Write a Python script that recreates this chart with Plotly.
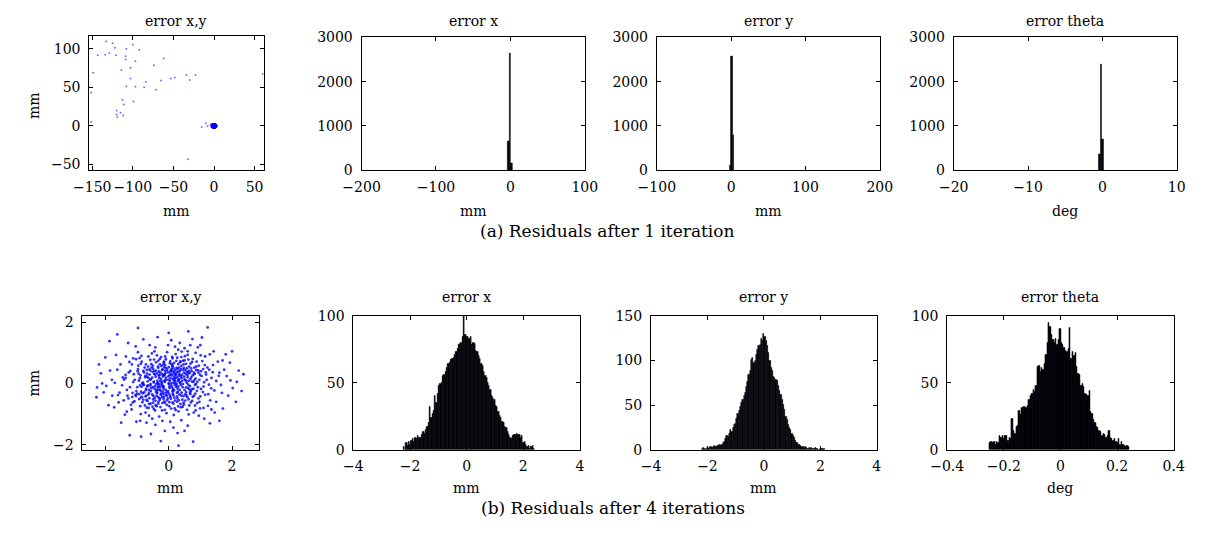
import plotly.graph_objects as go

# ---------------- DATA ----------------
# (a) after 1 iteration: outliers of the x,y residuals (mm)
outlier_pts = [
    (-132.8, 109.4), (-124.8, 107.2), (-122.0, 101.3), (-143.2, 91.5), (-134.0, 92.3),
    (-128.8, 94.5), (-120.8, 91.5), (-108.0, 100.0), (-100.0, 105.0), (-92.0, 98.7),
    (-108.8, 90.2), (-108.8, 86.0), (-96.8, 83.8), (-62.0, 87.2), (-74.0, 78.7),
    (-148.8, 68.9), (-114.0, 72.3), (-102.8, 75.3), (-102.8, 61.3), (-84.0, 57.0),
    (-108.0, 51.0), (-96.8, 50.6), (-86.0, 50.2), (-71.2, 46.8), (-65.2, 58.7),
    (-53.2, 61.3), (-48.4, 62.6), (-34.0, 66.0), (-30.0, 59.6), (-22.8, 66.0),
    (60.0, 67.2), (-151.2, 43.4), (-112.8, 34.0), (-111.2, 27.7), (-99.2, 31.5),
    (-120.0, 20.0), (-115.2, 17.0), (-120.0, 14.9), (-112.0, 13.6), (-119.2, 11.5),
    (-151.2, 5.1), (-15.2, -1.3), (-10.0, 3.4), (-8.0, 0.0), (-4.0, 2.1),
    (-32.0, -43.4),
]

# residual cloud of x,y errors (mm)
cloud_pts = [
    (-0.12, 0.05), (0.23, -0.11), (0.41, 0.18), (-0.35, -0.22), (0.07, 0.31), (-0.58, 0.12), (0.62, -0.04),
    (-0.21, 0.44), (0.15, -0.39), (0.48, 0.35), (-0.44, -0.47), (0.01, -0.02), (-0.67, -0.09), (0.33, 0.52),
    (-0.05, -0.55), (0.72, 0.21), (-0.29, 0.27), (0.19, 0.12), (-0.51, 0.38), (0.55, -0.28), (-0.16, -0.18),
    (0.09, 0.47), (-0.38, -0.02), (0.28, -0.49), (-0.74, 0.25), (0.44, -0.12), (-0.09, 0.19), (0.64, 0.41),
    (-0.25, -0.37), (0.12, -0.24), (-0.47, 0.06), (0.37, 0.03), (-0.02, 0.36), (0.78, -0.17), (-0.62, -0.31),
    (0.21, 0.27), (-0.33, 0.51), (0.52, 0.11), (-0.18, -0.08), (0.05, -0.44), (-0.55, -0.15), (0.31, 0.39),
    (-0.07, 0.12), (0.68, -0.35), (-0.41, 0.22), (0.16, 0.02), (-0.28, -0.53), (0.47, -0.41), (-0.69, 0.44),
    (0.26, -0.31), (-0.13, 0.29), (0.59, 0.27), (-0.36, 0.09), (0.03, -0.15), (-0.52, -0.36), (0.39, 0.46),
    (-0.22, 0.01), (0.11, 0.55), (-0.79, -0.05), (0.73, 0.06), (-0.04, -0.29), (0.35, -0.21), (-0.46, 0.31),
    (0.22, 0.18), (-0.15, -0.44), (0.57, 0.02), (-0.31, 0.39), (0.08, -0.07), (-0.64, 0.18), (0.43, -0.53),
    (-0.11, 0.41), (0.29, 0.09), (-0.39, -0.29), (0.66, 0.33), (-0.24, 0.15), (0.13, -0.34), (-0.57, -0.02),
    (0.49, 0.22), (-0.01, 0.23), (0.81, 0.11), (-0.72, -0.22), (0.18, 0.38), (-0.27, -0.12), (0.38, -0.05),
    (-0.49, 0.48), (0.04, 0.08), (-0.19, -0.27), (0.61, -0.15), (-0.34, 0.02), (0.25, 0.51), (-0.08, -0.38),
    (0.53, 0.44), (-0.60, 0.29), (0.14, -0.18), (-0.43, -0.08), (0.32, 0.26), (-0.14, 0.53), (0.70, -0.26),
    (-0.26, 0.35), (0.06, 0.17),
    (-0.95, 0.32), (1.02, -0.18), (0.87, 0.55), (-0.83, -0.61), (0.12, 0.82), (-0.21, -0.88), (1.18, 0.29),
    (-1.12, 0.05), (0.65, -0.72), (-0.58, 0.77), (0.94, -0.49), (-1.05, -0.38), (0.31, -0.91), (-0.37, 0.92),
    (1.27, -0.04), (-1.21, 0.41), (0.76, 0.80), (-0.88, 0.64), (0.45, 0.74), (-0.69, -0.79), (1.09, 0.47),
    (-0.99, -0.12), (0.58, -0.86), (-0.15, 0.71), (0.02, -0.74), (1.35, 0.18), (-1.32, -0.21), (0.84, -0.33),
    (-0.76, 0.52), (0.22, 0.96), (-0.47, -0.83), (1.15, -0.37), (-1.16, 0.62), (0.69, 0.65), (-0.62, -0.67),
    (0.97, 0.12), (-0.91, 0.17), (0.39, -0.78), (-0.28, 0.80), (1.22, 0.52), (-1.27, -0.49), (0.51, 0.89),
    (-0.84, -0.44), (0.90, -0.64), (-0.05, 1.02), (0.16, -1.03), (-1.41, 0.13), (1.44, -0.23), (-0.53, 0.98),
    (0.63, -1.01), (-1.03, 0.79), (1.06, 0.73), (-0.73, -0.95), (0.82, 0.31), (-0.97, 0.47), (0.36, 0.69),
    (-0.41, -0.71), (1.31, -0.55), (-1.19, -0.70), (0.04, 0.66), (-0.07, -0.97), (0.99, -0.81), (-0.81, 0.03),
    (0.74, -0.57), (-0.55, 0.63), (1.12, 0.04), (-1.08, -0.58), (0.27, 0.84), (-0.33, -0.66), (0.86, -0.02),
    (-0.92, 0.83), (1.39, 0.37), (-1.36, 0.28), (0.48, -0.69), (-0.64, 0.88), (0.60, 0.93), (-0.87, -0.27),
    (1.01, 0.92), (-1.24, 0.70), (0.19, -0.81), (-0.11, 0.88), (0.93, 0.43), (-1.14, -0.31), (1.24, -0.73),
    (-0.45, 1.05), (0.41, 1.04), (-0.70, -0.54), (0.79, -0.95), (-1.47, -0.06), (1.50, 0.08),
    (-1.62, 0.45), (1.68, -0.31), (1.55, 0.71), (-1.58, -0.62), (0.35, 1.32), (-0.42, -1.35), (1.83, 0.24),
    (-1.79, 0.12), (0.92, 1.18), (-1.04, 1.21), (1.12, -1.15), (-0.90, -1.22), (2.02, -0.15), (-2.05, -0.29),
    (0.08, 1.41), (0.15, -1.44), (1.71, -0.82), (-1.66, 0.93), (-0.35, 1.51), (0.60, -1.38), (2.21, 0.42),
    (-2.14, 0.33), (1.42, 1.05), (-1.38, -1.02), (0.75, 1.45), (-0.80, 1.44), (1.93, 0.68), (-1.90, -0.71),
    (0.28, -1.62), (-0.12, -1.55), (1.30, -1.30), (-1.28, 1.32), (2.36, 0.30), (-2.26, -0.13), (-2.20, 0.62),
    (-1.87, 1.38), (-0.97, 1.81), (0.62, 1.70), (1.23, 1.83), (2.00, 1.05), (1.80, 0.95), (-1.23, -1.69),
    (-0.87, -1.74), (-0.56, -1.65), (0.31, -2.03), (0.77, -1.90), (-2.28, -0.45), (1.60, -1.22), (-1.50, -1.28),
    (2.12, -0.60), (-2.00, 0.85), (0.00, 1.65), (-0.25, -1.88), (1.05, 1.50), (-1.62, 1.60), (2.30, -0.25),
    (1.45, -0.95), (-1.45, 0.20), (0.50, -1.55), (-0.60, 1.25),
    (0.02, -0.61), (-0.17, 0.62), (0.47, -0.63), (-0.50, 0.58), (0.85, 0.16), (-0.86, -0.11), (0.24, 0.00),
    (-0.30, -0.03), (0.11, 0.26), (-0.09, -0.21), (0.58, 0.50), (-0.61, -0.48), (0.34, -0.36), (-0.37, 0.33),
    (0.76, -0.44), (-0.78, 0.36), (0.17, 0.67), (-0.20, -0.64), (0.95, 0.58), (-0.93, -0.51), (0.42, 0.08),
    (-0.45, -0.17), (0.07, 0.43), (-0.03, -0.49), (0.67, -0.09), (-0.66, 0.07), (0.30, 0.63), (-0.32, -0.59),
    (0.89, -0.24), (-0.89, 0.26), (0.20, -0.56), (-0.23, 0.57), (0.54, 0.31), (-0.56, -0.25), (0.10, -0.12),
    (-0.13, 0.10), (0.71, 0.49), (-0.71, -0.40), (0.37, -0.67), (-0.40, 0.69), (1.04, 0.24), (-1.02, -0.25),
    (0.26, 0.36), (-0.24, -0.33), (0.50, -0.21), (-0.52, 0.19), (0.00, 0.53), (0.01, -0.33), (0.80, 0.35),
    (-0.82, -0.32), (0.14, 0.15), (-0.16, -0.10), (0.63, -0.52), (-0.65, 0.55), (0.40, 0.57), (-0.42, -0.56),
    (1.10, -0.10), (-1.07, 0.12), (0.28, -0.17), (-0.30, 0.18), (0.55, 0.64), (-0.57, -0.66), (0.05, 0.72),
    (-0.06, -0.70), (0.92, -0.12), (-0.94, 0.09), (0.33, 0.14), (-0.35, -0.14), (0.69, 0.15), (-0.71, -0.17),
    (0.18, -0.47), (-0.19, 0.46), (0.46, 0.45), (-0.48, -0.41), (1.17, 0.36), (-1.15, -0.44), (0.30, -0.75),
    (-0.33, 0.74), (0.83, -0.72), (-0.85, 0.71), (0.09, 0.00), (-0.10, 0.34), (0.56, -0.40), (-0.58, 0.42),
    (0.21, 0.44), (-0.21, -0.45), (0.74, 0.70), (-0.75, -0.72), (0.38, 0.23), (-0.40, -0.23), (1.00, -0.42),
    (-0.98, 0.40), (0.12, -0.62), (-0.11, 0.60), (0.64, 0.09), (-0.66, -0.06), (0.25, -0.05), (-0.27, 0.08),
    (0.87, 0.44), (-0.88, -0.46),
    (0.45, -0.02), (-0.47, 0.03), (0.16, 0.33), (-0.17, -0.35), (0.83, -0.05), (-0.84, 0.00), (0.29, -0.27),
    (-0.31, 0.26), (0.60, 0.20), (-0.62, -0.21), (0.03, 0.27), (-0.02, -0.25), (0.99, 0.28), (-1.00, -0.33),
    (0.36, 0.41), (-0.38, -0.40), (0.52, -0.56), (-0.54, 0.52), (0.13, 0.58), (-0.14, -0.59), (0.70, -0.62),
    (-0.72, 0.62), (0.41, -0.30), (-0.43, 0.29), (0.08, -0.82), (-0.09, 0.79), (1.20, 0.12), (-1.22, -0.12),
    (0.24, 0.74), (-0.26, -0.77), (0.88, 0.71), (-0.90, -0.74), (0.56, 0.08), (-0.58, -0.07), (0.19, -0.04),
    (-0.21, 0.06), (0.76, 0.27), (-0.77, -0.29), (0.32, -0.55), (-0.34, 0.55), (1.08, -0.28), (-1.10, 0.30),
    (0.47, 0.62), (-0.49, -0.63), (0.00, 0.12), (0.02, -0.10), (0.65, 0.55), (-0.67, -0.57), (0.27, 0.20),
    (-0.28, -0.20), (1.28, 0.45), (-1.30, -0.40), (0.40, 0.86), (-0.43, -0.88), (0.97, -0.60), (-0.96, 0.58),
    (0.15, -0.66), (-0.15, 0.68), (0.73, -0.19), (-0.74, 0.20), (0.34, 0.31), (-0.36, -0.31), (0.59, -0.45),
    (-0.61, 0.46), (1.34, -0.16), (-1.36, 0.18), (0.22, -0.87), (-0.24, 0.86), (0.81, 0.52), (-0.80, -0.53),
    (0.05, 0.38), (-0.06, -0.40), (0.50, 0.13), (-0.50, -0.12), (1.14, 0.60), (-1.13, -0.62), (0.62, 0.78),
    (-0.63, -0.80), (0.17, -0.22), (-0.18, 0.23), (0.90, 0.05), (-0.90, -0.06), (0.44, -0.76), (-0.46, 0.78),
    (0.28, 0.48), (-0.29, -0.49), (1.02, 0.40), (-1.03, -0.41), (0.11, 0.87), (-0.12, -0.86), (0.67, -0.30),
    (-0.68, 0.32), (0.37, 0.72), (-0.38, -0.74), (1.25, -0.35), (-1.26, 0.36), (0.55, -0.13), (-0.57, 0.14),
    (0.20, 0.06), (-0.22, -0.05), (1.58, 0.25), (-1.55, -0.30), (0.85, -0.88), (-0.86, 0.90), (1.40, 0.60),
    (-1.42, -0.55), (0.50, 1.15), (-0.52, -1.15), (1.65, -0.05), (-1.70, 0.02), (0.20, 1.20), (-0.20, -1.22),
    (1.15, 0.88), (-1.17, -0.85), (0.95, -1.05), (-0.97, 1.02), (1.75, 0.45), (-1.78, -0.40), (0.68, 1.25),
    (-0.70, -1.28), (1.50, -0.60), (-1.52, 0.62), (0.05, -1.25), (-0.02, 1.25), (1.88, -0.40), (-1.85, 0.42),
    (1.30, 0.95), (-1.32, -0.92), (0.40, -1.20), (-0.42, 1.18), (1.95, 0.10), (-1.97, -0.08), (0.85, 1.00),
    (-0.88, -1.00), (1.60, 0.35), (-1.60, -0.38), (0.30, 1.10), (-0.30, -1.08), (1.10, -0.80), (-1.12, 0.82),
    (2.15, 0.05), (-2.10, 0.00), (1.35, -0.85), (-1.35, 0.88), (0.60, 1.05), (-0.62, -1.05), (1.70, 0.75),
    (-1.72, -0.78), (1.00, 1.25), (-1.02, -1.25), (0.18, 0.20), (-0.20, 0.30), (0.30, -0.10), (-0.10, -0.30),
    (0.12, 0.40), (0.42, 0.28), (-0.33, -0.45), (0.26, -0.42), (-0.45, 0.40), (0.53, -0.35), (0.07, -0.50),
    (-0.08, 0.50), (0.62, 0.35), (-0.64, -0.36), (0.35, 0.02), (-0.36, 0.00), (0.13, -0.27), (-0.14, 0.27),
    (0.48, 0.51), (-0.49, -0.52), (0.00, 0.00), (0.22, 0.30), (-0.25, -0.24), (0.40, -0.40), (-0.40, 0.42),
    (0.66, -0.20), (-0.68, 0.22), (0.10, 0.62), (-0.12, -0.63), (0.57, 0.38), (0.31, 0.10), (-0.32, -0.09),
    (0.80, -0.40), (-0.80, 0.41), (0.15, 0.50), (-0.16, -0.51), (0.72, 0.40), (-0.73, -0.42), (0.04, -0.40),
    (-0.05, 0.44), (0.94, 0.35), (-0.93, -0.35), (0.27, -0.60), (-0.28, 0.62), (0.50, 0.75), (-0.51, -0.76),
    (0.16, 0.10), (-0.17, -0.12), (0.78, 0.05), (-0.79, -0.04),
]

# (a) histograms after 1 iteration: bin centers and counts
top_ex_centers = [-2.6, -0.45, 1.7]
top_ex_counts = [650, 2650, 150]
top_ex_width = 2.15
top_ey_centers = [-1.3, 0.9, 3.1]
top_ey_counts = [120, 2570, 790]
top_ey_width = 2.2
top_et_centers = [-0.37, -0.15, 0.07]
top_et_counts = [360, 2390, 700]
top_et_width = 0.22

# (b) histograms after 4 iterations (100 bins each)
ex_start, ex_width = -2.25, 0.0465
ex_counts = [2, 0, 5, 3, 6, 4, 7, 8, 6, 9, 8, 10, 9, 9, 11, 13, 12, 15, 17, 20,
             32, 24, 27, 29, 40, 35, 42, 48, 49, 50, 55, 56, 58, 61, 64, 65, 67, 68, 69, 71,
             73, 75, 78, 79, 80, 84, 100, 86, 84, 84, 83, 84, 78, 80, 79, 74, 73, 70, 68, 64,
             63, 58, 55, 54, 50, 48, 45, 40, 39, 37, 33, 32, 28, 25, 24, 21, 20, 17, 16, 13,
             11, 9, 8, 10, 11, 11, 12, 11, 11, 9, 10, 5, 6, 4, 2, 3, 1, 2, 3, 1]
ey_start, ey_width = -2.2, 0.0435
ey_counts = [1, 2, 1, 0, 2, 1, 2, 3, 2, 3, 4, 3, 4, 4, 5, 4, 6, 8, 9, 12,
             16, 14, 18, 22, 20, 25, 28, 29, 35, 40, 44, 48, 52, 56, 60, 64, 70, 76, 84, 88,
             101, 103, 97, 100, 106, 112, 116, 118, 124, 122, 130, 127, 122, 116, 109, 100, 92, 88, 82, 80,
             78, 77, 72, 66, 62, 56, 50, 45, 37, 34, 28, 25, 22, 18, 15, 13, 10, 8, 6, 5,
             4, 3, 3, 2, 3, 2, 1, 2, 1, 2, 1, 1, 2, 1, 1, 0, 1, 1, 1, 1]
et_start, et_width = -0.2515, 0.00495
et_counts = [5, 6, 5, 6, 4, 6, 5, 10, 9, 10, 8, 10, 10, 7, 9, 8, 23, 14, 12, 17,
             18, 29, 26, 31, 32, 32, 31, 33, 37, 40, 42, 45, 43, 48, 62, 63, 58, 61, 60, 64,
             71, 80, 95, 92, 86, 82, 80, 83, 78, 82, 90, 80, 78, 76, 74, 73, 75, 91, 68, 73,
             70, 72, 62, 57, 56, 48, 49, 47, 42, 41, 40, 44, 28, 27, 22, 20, 17, 16, 14, 13,
             10, 12, 11, 9, 10, 14, 9, 8, 7, 8, 6, 5, 8, 4, 6, 4, 3, 2, 3, 2]

titles = ["error x,y", "error x", "error y", "error theta"]
xlabels = ["mm", "mm", "mm", "deg"]
captions = ["(a) Residuals after 1 iteration", "(b) Residuals after 4 iterations"]

# ---------------- LAYOUT HELPERS ----------------
W, H = 1205, 535
PAGE_OFFSET = 8  # default page margin around the figure
FONT = "DejaVu Serif"
FS = 14
CAP_FS = 17


def bx(p):
    return (p - PAGE_OFFSET) / W


def by(p):
    return 1 - (p - PAGE_OFFSET) / H


# pixel boxes on screen (left, right, top, bottom)
boxes = [
    (72, 251, 29, 167), (351.7, 581, 30, 167), (655, 884, 30, 167), (960, 1189, 30, 167),
    (65, 246, 317, 455), (343.3, 576, 317, 455), (649, 881, 317, 455), (953.3, 1186, 317, 455),
]
xranges = [[-153.6, 61], [-200, 100], [-100, 200], [-20, 10],
           [-2.72, 2.84], [-4, 4], [-4, 4], [-0.4, 0.4]]
yranges = [[-57.5, 116], [0, 3000], [0, 3000], [0, 3000],
           [-2.16, 2.21], [0, 100], [0, 150], [0, 100]]
xticks = [[-150, -100, -50, 0, 50], [-200, -100, 0, 100], [-100, 0, 100, 200], [-20, -10, 0, 10],
          [-2, 0, 2], [-4, -2, 0, 2, 4], [-4, -2, 0, 2, 4], [-0.4, -0.2, 0, 0.2, 0.4]]
yticks = [[-50, 0, 50, 100], [0, 1000, 2000, 3000], [0, 1000, 2000, 3000], [0, 1000, 2000, 3000],
          [-2, 0, 2], [0, 50, 100], [0, 50, 100, 150], [0, 50, 100]]

fig = go.Figure()

BAR_FILL = "#00000c"
BAR_LINE = dict(color="#000000", width=0.5)

cx = [p[0] for p in cloud_pts]
cy = [p[1] for p in cloud_pts]
ox = [p[0] for p in outlier_pts]
oy = [p[1] for p in outlier_pts]

# panel 1: scatter (a)
fig.add_trace(go.Scatter(x=ox, y=oy, mode="markers", xaxis="x", yaxis="y",
                         marker=dict(size=2, color="rgba(0,0,255,0.55)")))
fig.add_trace(go.Scatter(x=cx, y=cy, mode="markers", xaxis="x", yaxis="y",
                         marker=dict(size=3, color="rgba(0,0,255,0.9)")))

# panels 2-4: histograms (a)
for k, (c, n, w) in enumerate([(top_ex_centers, top_ex_counts, top_ex_width),
                               (top_ey_centers, top_ey_counts, top_ey_width),
                               (top_et_centers, top_et_counts, top_et_width)]):
    fig.add_trace(go.Bar(x=c, y=n, width=w, xaxis=f"x{k+2}", yaxis=f"y{k+2}",
                         marker=dict(color=BAR_FILL, line=BAR_LINE)))

# panel 5: scatter (b)
fig.add_trace(go.Scatter(x=cx, y=cy, mode="markers", xaxis="x5", yaxis="y5",
                         marker=dict(size=2.8, color="rgba(0,0,255,0.8)")))

# panels 6-8: histograms (b)
for k, (s, w, n) in enumerate([(ex_start, ex_width, ex_counts),
                               (ey_start, ey_width, ey_counts),
                               (et_start, et_width, et_counts)]):
    centers = [s + (i + 0.5) * w for i in range(len(n))]
    fig.add_trace(go.Bar(x=centers, y=n, width=w, xaxis=f"x{k+6}", yaxis=f"y{k+6}",
                         marker=dict(color=BAR_FILL, line=BAR_LINE)))

layout = dict(
    width=W, height=H, margin=dict(l=0, r=0, t=0, b=0),
    paper_bgcolor="white", plot_bgcolor="white", showlegend=False, bargap=0,
    font=dict(family=FONT, size=FS, color="black"),
)
common = dict(ticks="inside", ticklen=4, tickwidth=1, tickcolor="black", showline=True,
              linecolor="black", linewidth=1, mirror="ticks", showgrid=False, zeroline=False,
              tickfont=dict(family=FONT, size=FS, color="black"), fixedrange=True)
annotations = []
for i in range(8):
    l, r, t, b = boxes[i]
    sfx = "" if i == 0 else str(i + 1)
    layout["xaxis" + sfx] = dict(common, domain=[bx(l), bx(r)], range=xranges[i], tickvals=xticks[i],
                                 anchor="y" + sfx, ticklabelstandoff=4)
    layout["yaxis" + sfx] = dict(common, domain=[by(b), by(t)], range=yranges[i], tickvals=yticks[i],
                                 anchor="x" + sfx, ticklabelstandoff=5)
    col = i % 4
    row = i // 4
    title_y = 13 if row == 0 else 298
    label_y = 209 if row == 0 else 495
    annotations.append(dict(text=titles[col], x=bx((l + r) / 2), y=by(title_y), xref="paper", yref="paper",
                            showarrow=False, xanchor="center", yanchor="middle",
                            font=dict(family=FONT, size=FS, color="black")))
    annotations.append(dict(text=xlabels[col], x=bx((l + r) / 2), y=by(label_y), xref="paper", yref="paper",
                            showarrow=False, xanchor="center", yanchor="middle",
                            font=dict(family=FONT, size=FS, color="black")))
    if col == 0:
        annotations.append(dict(text="mm", x=bx(15), y=by(386 if row == 1 else 100), xref="paper",
                                yref="paper", showarrow=False, textangle=-90, xanchor="center",
                                yanchor="middle", font=dict(family=FONT, size=FS, color="black")))

annotations.append(dict(text=captions[0], x=bx(604), y=by(230), xref="paper", yref="paper", showarrow=False,
                        xanchor="center", yanchor="middle", font=dict(family=FONT, size=CAP_FS, color="black")))
annotations.append(dict(text=captions[1], x=bx(610), y=by(515), xref="paper", yref="paper", showarrow=False,
                        xanchor="center", yanchor="middle", font=dict(family=FONT, size=CAP_FS, color="black")))
layout["annotations"] = annotations
fig.update_layout(**layout)

fig.write_html("out.html")
